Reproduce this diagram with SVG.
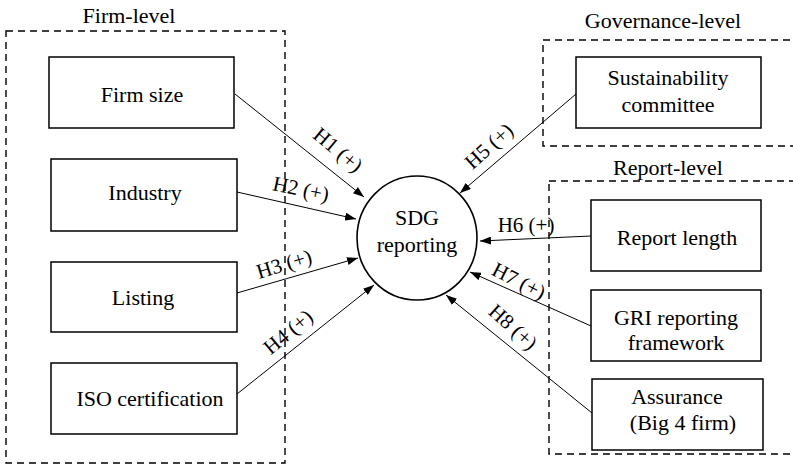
<svg xmlns="http://www.w3.org/2000/svg" width="793" height="465" viewBox="0 0 793 465">
<defs>
<style>
text{font-family:"Liberation Serif","Times New Roman",serif;fill:#000;}
.t{font-size:22px;text-anchor:middle;}
.h{font-size:21px;text-anchor:middle;}
.box{fill:#fff;stroke:#000;stroke-width:1.5;}
.grp{fill:none;stroke:#000;stroke-width:1.4;stroke-dasharray:7,5;}
.arr{fill:none;stroke:#000;stroke-width:1;marker-end:url(#ah);}
</style>
<marker id="ah" markerUnits="userSpaceOnUse" markerWidth="12" markerHeight="8" refX="11" refY="4" orient="auto">
<path d="M0,0 L11,4 L0,8 z" fill="#000"/>
</marker>
</defs>
<rect width="793" height="465" fill="#fff"/>

<g id="groups">
<rect class="grp" x="6" y="31" width="279" height="432"/>
<text class="t" x="129" y="23">Firm-level</text>
<rect class="grp" x="543" y="40" width="260" height="106"/>
<text class="t" x="663" y="28">Governance-level</text>
<rect class="grp" x="549" y="181" width="260" height="273"/>
<text class="t" x="668" y="175">Report-level</text>
</g>

<g id="connectors">
<line class="arr" x1="235" y1="94" x2="364" y2="197"/>
<line class="arr" x1="237" y1="192" x2="356" y2="219"/>
<line class="arr" x1="237" y1="293" x2="358" y2="258"/>
<line class="arr" x1="237" y1="394" x2="374" y2="285"/>
<line class="arr" x1="576" y1="94" x2="460" y2="193"/>
<line class="arr" x1="591" y1="236" x2="480" y2="241"/>
<line class="arr" x1="591" y1="326" x2="470" y2="272"/>
<line class="arr" x1="592" y1="413" x2="446" y2="295"/>
<text class="h" transform="translate(338,150) rotate(40)" y="7">H1 (+)</text>
<text class="h" transform="translate(301,189) rotate(12)" y="7">H2 (+)</text>
<text class="h" transform="translate(284,264) rotate(-17)" y="7">H3 (+)</text>
<text class="h" transform="translate(288,332) rotate(-40)" y="7">H4 (+)</text>
<text class="h" transform="translate(489,146) rotate(-42)" y="7">H5 (+)</text>
<text class="h" transform="translate(526,225)" y="7">H6 (+)</text>
<text class="h" transform="translate(519,281) rotate(27)" y="7">H7 (+)</text>
<text class="h" transform="translate(513,327) rotate(42)" y="7">H8 (+)</text>
</g>

<g id="firm-size">
<rect class="box" x="49" y="57" width="185" height="71"/>
<text class="t" x="142" y="102">Firm size</text>
</g>
<g id="industry">
<rect class="box" x="51" y="159" width="186" height="72"/>
<text class="t" x="145" y="200">Industry</text>
</g>
<g id="listing">
<rect class="box" x="51" y="262" width="186" height="70"/>
<text class="t" x="143" y="305">Listing</text>
</g>
<g id="iso">
<rect class="box" x="51" y="363" width="186" height="71"/>
<text class="t" x="150" y="406">ISO certification</text>
</g>

<g id="sdg">
<ellipse cx="417" cy="238" rx="60" ry="62" fill="#fff" stroke="#000" stroke-width="1.6"/>
<text class="t" x="417" y="225">SDG</text>
<text class="t" x="417" y="252">reporting</text>
</g>

<g id="committee">
<rect class="box" x="576" y="57" width="185" height="71"/>
<text class="t" x="668" y="85">Sustainability</text>
<text class="t" x="668" y="112">committee</text>
</g>
<g id="report-length">
<rect class="box" x="591" y="200" width="170" height="71"/>
<text class="t" x="677" y="245">Report length</text>
</g>
<g id="gri">
<rect class="box" x="591" y="290" width="170" height="71"/>
<text class="t" x="676" y="325">GRI reporting</text>
<text class="t" x="676" y="350">framework</text>
</g>
<g id="assurance">
<rect class="box" x="592" y="379" width="171" height="71"/>
<text class="t" x="677" y="404">Assurance</text>
<text class="t" x="683" y="430">(Big 4 firm)</text>
</g>
</svg>
